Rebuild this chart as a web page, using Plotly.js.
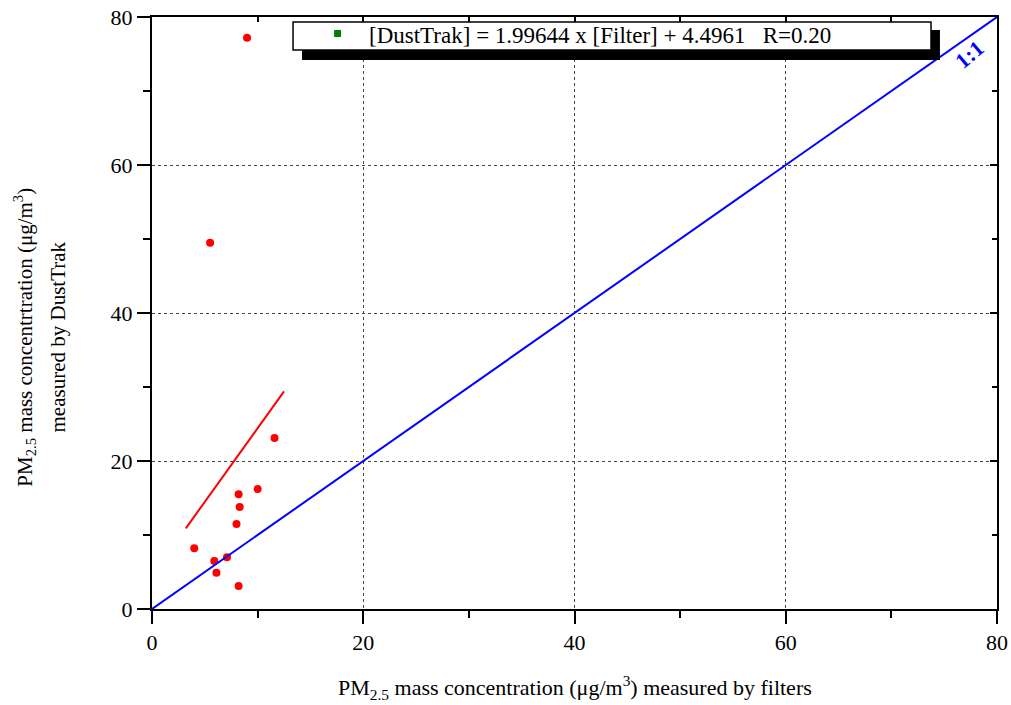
<!DOCTYPE html>
<html><head><meta charset="utf-8">
<script src="https://cdn.plot.ly/plotly-3.0.1.min.js"></script>
<style>html,body{margin:0;padding:0;background:#fff}#chart{width:1011px;height:705px}</style>
</head><body><div id="chart"></div>
<script>
// Data
const filterPM = [4.0, 5.9, 6.1, 7.1, 8.2, 8.0, 8.3, 8.2, 10.0, 11.6, 5.5, 9.0];
const dustTrakPM = [8.2, 6.5, 4.9, 7.0, 3.1, 11.5, 13.8, 15.5, 16.2, 23.1, 49.5, 77.2];
const fitX = [3.2, 12.5];
const fitY = [10.9, 29.4];
const oneToOneX = [0, 80];
const oneToOneY = [0, 80];
const legendText = "[DustTrak] = 1.99644 x [Filter] + 4.4961   R=0.20";
const tickVals = [0, 20, 40, 60, 80];
const tickText = ["0", "20", "40", "60", "80"];

const FONT = "Liberation Serif, Times New Roman, serif";

const traces = [
  {x: oneToOneX, y: oneToOneY, mode: 'lines', line: {color: '#0000ff', width: 2}, xaxis: 'x2', yaxis: 'y2', hoverinfo: 'skip'},
  {x: fitX, y: fitY, mode: 'lines', line: {color: '#ff0000', width: 2}},
  {x: filterPM, y: dustTrakPM, mode: 'markers', marker: {color: '#ff0000', size: 8, symbol: 'circle'}}
];

const axisCommon = {
  range: [0, 80], tickvals: tickVals, ticktext: tickText, showline: true, linecolor: '#000', linewidth: 2,
  zeroline: false, tickcolor: '#000', tickwidth: 2, fixedrange: true,
  tickfont: {family: FONT, size: 22, color: '#000'}
};

const layout = {
  width: 1011, height: 705,
  margin: {l: 152, r: 14, t: 17, b: 96},
  paper_bgcolor: '#fff', plot_bgcolor: '#fff',
  showlegend: false,
  font: {family: FONT, color: '#000'},
  xaxis: Object.assign({}, axisCommon, {
    ticks: 'outside', ticklen: 13, mirror: false,
    showgrid: true, gridcolor: '#444', griddash: 'dot', gridwidth: 1,
    minor: {dtick: 10, tick0: 0, ticks: 'outside', ticklen: 7, tickwidth: 2, tickcolor: '#000', showgrid: false}
  }),
  yaxis: Object.assign({}, axisCommon, {
    ticks: 'outside', ticklen: 13, mirror: false,
    showgrid: true, gridcolor: '#444', griddash: 'dot', gridwidth: 1,
    minor: {dtick: 10, tick0: 0, ticks: 'outside', ticklen: 7, tickwidth: 2, tickcolor: '#000', showgrid: false}
  }),
  xaxis2: Object.assign({}, axisCommon, {
    overlaying: 'x', side: 'top', anchor: 'y2', ticks: 'inside', ticklen: 7, showticklabels: false, showgrid: false,
    minor: {dtick: 10, tick0: 0, ticks: 'inside', ticklen: 5, tickwidth: 2, tickcolor: '#000'}
  }),
  yaxis2: Object.assign({}, axisCommon, {
    overlaying: 'y', side: 'right', anchor: 'x2', ticks: 'inside', ticklen: 7, showticklabels: false, showgrid: false,
    minor: {dtick: 10, tick0: 0, ticks: 'inside', ticklen: 5, tickwidth: 2, tickcolor: '#000'}
  }),
  shapes: [
    {type: 'rect', xref: 'paper', yref: 'paper', x0: 0.1775, x1: 0.9325, y0: 0.9275, y1: 0.978, fillcolor: '#000', line: {width: 0}, layer: 'above'},
    {type: 'rect', xref: 'paper', yref: 'paper', x0: 0.1669, x1: 0.9219, y0: 0.9443, y1: 0.9916, fillcolor: '#fff', line: {color: '#000', width: 1.5}, layer: 'above'},
    {type: 'rect', xref: 'paper', yref: 'paper', x0: 0.2155, x1: 0.2237, y0: 0.9662, y1: 0.9780, fillcolor: '#008000', line: {width: 0}, layer: 'above'}
  ],
  annotations: [
    {xref: 'paper', yref: 'paper', x: 0.2544, y: 0.9690, xanchor: 'left', yanchor: 'middle', showarrow: false,
     text: legendText, font: {family: FONT, size: 23, color: '#000'}},
    {xref: 'x', yref: 'y', x: 77.4, y: 74.9, showarrow: false, textangle: -40,
     text: '<b>1:1</b>', font: {family: FONT, size: 22, color: '#0000ff'}},
    {xref: 'paper', yref: 'paper', x: 0.5, y: -0.1334, xanchor: 'center', yanchor: 'middle', showarrow: false,
     text: 'PM<sub>2.5</sub> mass concentration (μg/m<sup>3</sup>) measured by filters', font: {family: FONT, size: 22, color: '#000'}},
    {xref: 'paper', yref: 'paper', x: -0.151, y: 0.459, xanchor: 'center', yanchor: 'middle', showarrow: false, textangle: -90,
     text: 'PM<sub>2.5</sub> mass concentrtration (μg/m<sup>3</sup>)', font: {family: FONT, size: 21, color: '#000'}},
    {xref: 'paper', yref: 'paper', x: -0.111, y: 0.459, xanchor: 'center', yanchor: 'middle', showarrow: false, textangle: -90,
     text: 'measured by DustTrak', font: {family: FONT, size: 21, color: '#000'}}
  ]
};

Plotly.newPlot('chart', traces, layout, {displayModeBar: false, staticPlot: true});
</script>
</body></html>
